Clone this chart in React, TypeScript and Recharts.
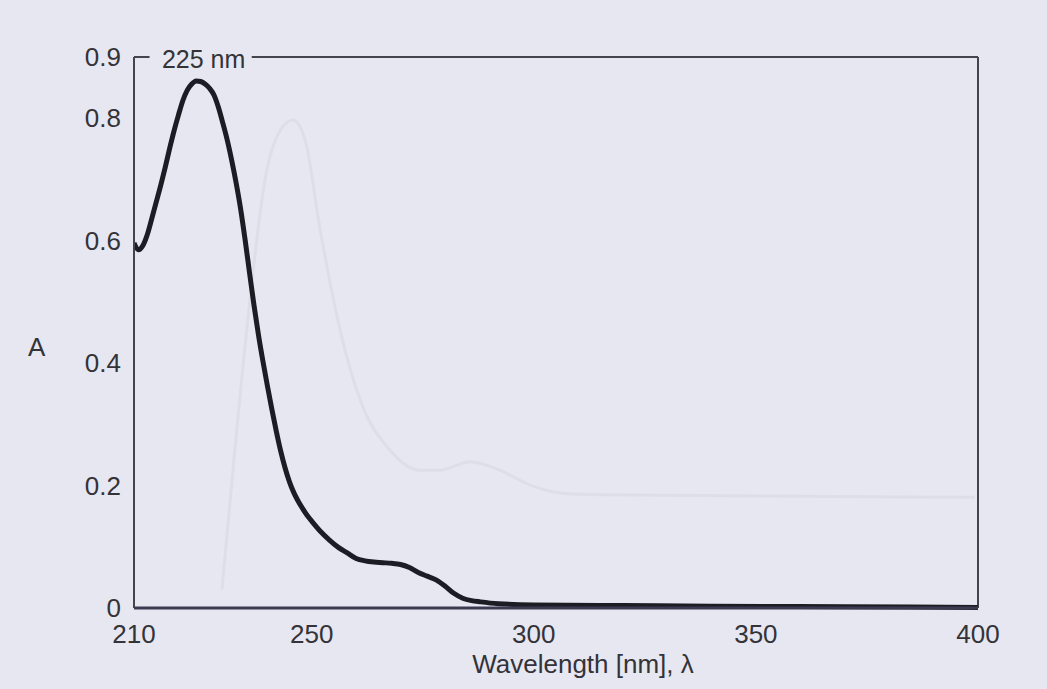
import { LineChart, Line, XAxis, YAxis, ReferenceLine, ReferenceDot, Label } from "recharts";

// main absorption spectrum
const wavelengths = [
  210, 211, 212, 213, 214, 215, 216, 217, 218, 219, 220, 221, 222, 223, 224, 225, 226, 227, 228, 229,
  230, 231, 232, 233, 234, 235, 236, 237, 238, 239, 240, 241, 242, 243, 244, 245, 246, 247, 248, 249,
  250, 252, 254, 256, 258, 260, 262, 264, 266, 268, 270, 272, 274, 276, 278, 280, 282, 284, 286, 288,
  292, 300, 320, 340, 370, 400,
];
const absorbance = [
  0.596, 0.585, 0.592, 0.61, 0.636, 0.663, 0.69, 0.719, 0.75, 0.779, 0.805, 0.829, 0.846, 0.856, 0.861, 0.86, 0.856, 0.849, 0.838, 0.818,
  0.792, 0.764, 0.731, 0.694, 0.652, 0.602, 0.548, 0.495, 0.447, 0.404, 0.364, 0.326, 0.29, 0.257, 0.229, 0.206, 0.188, 0.174, 0.162, 0.151,
  0.142, 0.125, 0.111, 0.099, 0.09, 0.081, 0.077, 0.075, 0.074, 0.073, 0.071, 0.066, 0.058, 0.052, 0.046, 0.036, 0.024, 0.016, 0.012, 0.01,
  0.007, 0.005, 0.004, 0.003, 0.002, 0.001,
];

// faint curve showing through from the back of the page
const ghostWavelengths = [229.8, 232.7, 236.1, 239.5, 242.9, 245.8, 248.5, 251.9, 256.4, 260.9, 267.6, 274.4, 278.9, 285.6, 292.4, 299.1, 305.9, 314.9, 399.3];
const ghostAbsorbance = [0.03, 0.258, 0.503, 0.7, 0.78, 0.797, 0.765, 0.618, 0.454, 0.34, 0.258, 0.225, 0.225, 0.239, 0.225, 0.201, 0.188, 0.185, 0.181];

const xTicks = [210, 250, 300, 350, 400];
const yTicks = [0, 0.2, 0.4, 0.6, 0.8, 0.9];

const spectrum = wavelengths.map((wl, i) => ({ wl, a: absorbance[i] }));
const ghost = ghostWavelengths.map((wl, i) => ({ wl, a: ghostAbsorbance[i] }));

const ink = "#333338";
const font = "'Liberation Sans', Arial, sans-serif";

export default function App() {
  return (
    <div style={{ position: "fixed", left: 0, top: 0, width: 1047, height: 689, background: "#e7e7f1" }}>
      <LineChart
        width={1047}
        height={689}
        margin={{ top: 57, right: 69, bottom: 0, left: 0 }}
        style={{ fontFamily: font }}
      >
        <XAxis
          dataKey="wl"
          type="number"
          domain={[210, 400]}
          ticks={xTicks}
          height={81}
          tickSize={0}
          tickMargin={17}
          tickLine={false}
          axisLine={{ stroke: "#3a3a52", strokeWidth: 3 }}
          tick={{ fill: ink, fontSize: 26 }}
          allowDataOverflow
        >
          <Label value="Wavelength [nm], λ" position="insideBottom" offset={16} dx={27} fill={ink} fontSize={26} />
        </XAxis>
        <YAxis
          type="number"
          domain={[0, 0.9]}
          ticks={yTicks}
          width={134}
          tickSize={0}
          tickMargin={13}
          tickLine={false}
          axisLine={{ stroke: "#44444c", strokeWidth: 2 }}
          tick={{ fill: ink, fontSize: 26 }}
          tickFormatter={(v: number) => String(v)}
        >
          <Label value="A" position="insideLeft" offset={28} dy={14} fill={ink} fontSize={26} />
        </YAxis>
        <ReferenceLine x={400} stroke="#44444c" strokeWidth={2} />
        <ReferenceLine segment={[{ x: 236.5, y: 0.9 }, { x: 400, y: 0.9 }]} stroke="#44444c" strokeWidth={2} />
        <ReferenceLine segment={[{ x: 210, y: 0.9 }, { x: 213.5, y: 0.9 }]} stroke="#44444c" strokeWidth={2} />
        <Line
          data={ghost}
          dataKey="a"
          type="monotone"
          stroke="#dedee8"
          strokeWidth={3}
          dot={false}
          isAnimationActive={false}
        />
        <Line
          data={spectrum}
          dataKey="a"
          type="monotone"
          stroke="#1c1c24"
          strokeWidth={5}
          dot={false}
          isAnimationActive={false}
        />
        <ReferenceDot x={225} y={0.9} r={0} stroke="none" fill="none">
          <Label value="225 nm" position="center" dx={3} dy={2} fill={ink} fontSize={25} />
        </ReferenceDot>
      </LineChart>
    </div>
  );
}
